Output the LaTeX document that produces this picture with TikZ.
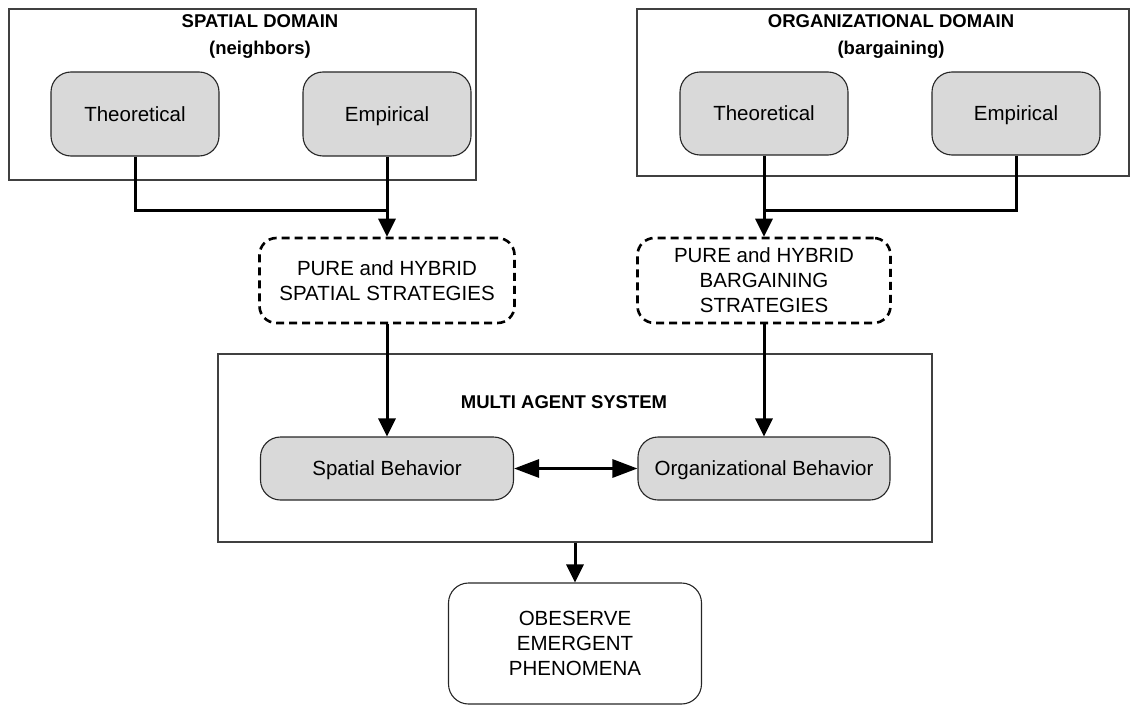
\documentclass[tikz,border=0pt]{standalone}
\usepackage{fontspec}
\setmainfont{Liberation Sans}
\usetikzlibrary{arrows.meta}
\newcommand\plaintext{\fontsize{20.5}{25}\selectfont}
\newcommand\headtext{\fontsize{18.5}{27}\selectfont\bfseries}
\begin{document}
\begin{tikzpicture}[x=1pt,y=-1pt,
  frame/.style={draw=black!75, line width=1.1pt, rectangle, inner sep=0pt},
  graybox/.style={draw=black!85, fill=black!15, line width=1.1pt,
    rounded corners=20pt, inner sep=0pt, font=\plaintext, align=center},
  oneline/.style={text height=14.7pt, text depth=0pt},
  dashbox/.style={draw=black, line width=2.6pt, dash pattern=on 8pt off 5pt,
    rounded corners=17pt, inner sep=0pt, font=\plaintext, align=center},
  whitebox/.style={draw=black!85, line width=1.1pt, rounded corners=20pt,
    inner sep=0pt, font=\plaintext, align=center},
  heading/.style={inner sep=0pt, font=\headtext, align=center},
  link/.style={draw=black, line width=3pt},
  flow/.style={link, -{Triangle[length=18pt,width=17pt]}},
  both/.style={link, {Triangle[length=25pt,width=18pt]}-{Triangle[length=25pt,width=18pt]}}
]
\useasboundingbox (0,0) rectangle (1131,706);

% domain frames
\node[frame, minimum width=467pt, minimum height=171pt] (domL) at (242.5,94.5) {};
\node[frame, minimum width=492pt, minimum height=167pt] (domR) at (883,92.5) {};
\node[heading] (titleL) at (260,36.5) {SPATIAL DOMAIN\\(neighbors)};
\node[heading] (titleR) at (891,36.5) {ORGANIZATIONAL DOMAIN\\(bargaining)};

% sources
\node[graybox, oneline, minimum width=168pt, minimum height=84pt] (theoL) at (135,114) {Theoretical};
\node[graybox, oneline, minimum width=168pt, minimum height=84pt] (empL) at (387,114) {Empirical};
\node[graybox, oneline, minimum width=168pt, minimum height=83pt] (theoR) at (764,113.5) {Theoretical};
\node[graybox, oneline, minimum width=168pt, minimum height=83pt] (empR) at (1016,113.5) {Empirical};

% strategies
\node[dashbox, minimum width=255pt, minimum height=85pt] (dashL) at (387,280.5)
  {PURE and HYBRID\\SPATIAL STRATEGIES};
\node[dashbox, minimum width=253pt, minimum height=85pt] (dashR) at (764,280.5)
  {PURE and HYBRID\\BARGAINING\\STRATEGIES};

% multi agent system
\node[frame, minimum width=714pt, minimum height=188pt] (mas) at (575,448) {};
\node[heading] (masT) at (564,402) {MULTI AGENT SYSTEM};
\node[graybox, oneline, minimum width=253pt, minimum height=63pt] (spB) at (387,468.5) {Spatial Behavior};
\node[graybox, oneline, minimum width=252pt, minimum height=63pt] (orgB) at (764,468.5) {Organizational Behavior};

% outcome
\node[whitebox, minimum width=253pt, minimum height=121pt] (obs) at (575,643.5)
  {OBESERVE\\EMERGENT\\PHENOMENA};

% connectors
\coordinate (jL) at (387,210);
\coordinate (jR) at (764,210);
\draw[link] (theoL.south) |- (jL);
\draw[flow] (empL.south) -- (dashL.north);
\draw[link] (empR.south) |- (jR);
\draw[flow] (theoR.south) -- (dashR.north);
\draw[flow] (dashL.south) -- (spB.north);
\draw[flow] (dashR.south) -- (orgB.north);
\draw[both] (spB.east) -- (orgB.west);
\draw[flow] (mas.south) -- (obs.north);
\end{tikzpicture}
\end{document}
